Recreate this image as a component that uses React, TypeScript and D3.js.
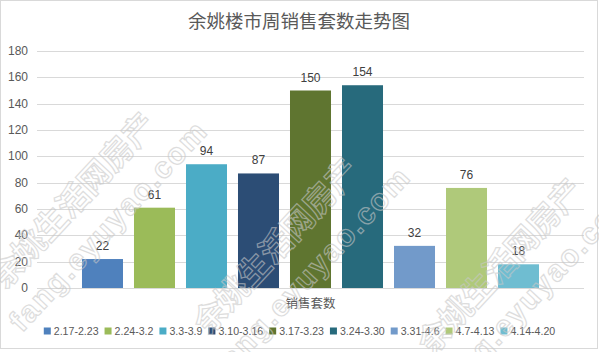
import React from "react";
import * as d3 from "d3";

const seriesNames = ["2.17-2.23", "2.24-3.2", "3.3-3.9", "3.10-3.16", "3.17-3.23", "3.24-3.30", "3.31-4.6", "4.7-4.13", "4.14-4.20"];
const seriesValues = [22, 61, 94, 87, 150, 154, 32, 76, 18];
const seriesColors = ["#4F81BD", "#9BBB59", "#4BACC6", "#2C4D75", "#5F7530", "#276A7C", "#729ACA", "#AFC97A", "#6FBDD1"];
const yTicks = [0, 20, 40, 60, 80, 100, 120, 140, 160, 180];
const category = "销售套数";
const title = "余姚楼市周销售套数走势图";
const watermarkCn = "余姚生活网房产";
const watermarkEn = "fang.eyuyao.com";

const W = 599;
const H = 352;
const NUM_FONT = "'Liberation Sans Narrow', 'Liberation Sans', Arial, sans-serif";
const CJK_FONT = "'Noto Sans CJK SC', sans-serif";

function measure(text: string, font: string): number {
  if (typeof document === "undefined") return text.length * 6;
  const c = document.createElement("canvas");
  const ctx = c.getContext("2d");
  if (!ctx) return text.length * 6;
  ctx.font = font;
  return ctx.measureText(text).width;
}

export default function App() {
  const plotLeft = 37;
  const plotRight = 584;
  const y = d3.scaleLinear().domain([0, 180]).range([288, 51]);
  const x = d3
    .scaleBand<string>()
    .domain(seriesNames)
    .range([plotLeft, plotRight])
    .paddingInner(0.2115)
    .paddingOuter(0.865);

  // legend layout
  const legendFontSize = 10.6;
  const legendFont = `${legendFontSize}px ${NUM_FONT}`;
  const marker = 7;
  const gapText = 3;
  const gapItem = 6;
  const widths = seriesNames.map((s) => measure(s, legendFont));
  const total = widths.reduce((a, b) => a + b, 0) + seriesNames.length * (marker + gapText) + (seriesNames.length - 1) * gapItem;
  let cur = (W - total) / 2;
  const legendItems = seriesNames.map((s, i) => {
    const item = { name: s, x: cur, color: seriesColors[i] };
    cur += marker + gapText + widths[i] + gapItem;
    return item;
  });
  const legendY = 331;

  const wmGroups = [
    [5, 290],
    [208, 336],
    [432, 356],
  ];

  return (
    <svg width={W} height={H} style={{ display: "block", position: "absolute", left: 0, top: 0, background: "#fff" }}>
      <rect x={0.5} y={0.5} width={W - 2} height={H - 4} fill="#fff" stroke="#d9d9d9" />
      <text x={299} y={28} textAnchor="middle" fontFamily={CJK_FONT} fontSize={18.5} fill="#595959">
        {title}
      </text>
      {yTicks.map((t) => (
        <g key={t}>
          <line x1={plotLeft} x2={plotRight} y1={Math.round(y(t)) + 0.5} y2={Math.round(y(t)) + 0.5} stroke="#d9d9d9" />
          <text x={28} y={y(t) + 4} textAnchor="end" fontFamily={NUM_FONT} fontSize={12} fill="#595959">
            {t}
          </text>
        </g>
      ))}
      {seriesNames.map((s, i) => (
        <g key={s}>
          <rect x={x(s)} y={y(seriesValues[i])} width={x.bandwidth()} height={y(0) - y(seriesValues[i])} fill={seriesColors[i]} />
          <text
            x={(x(s) as number) + x.bandwidth() / 2}
            y={y(seriesValues[i]) - 9}
            textAnchor="middle"
            fontFamily={NUM_FONT}
            fontSize={12}
            fill="#404040"
          >
            {seriesValues[i]}
          </text>
        </g>
      ))}
      <text x={(plotLeft + plotRight) / 2} y={308} textAnchor="middle" fontFamily={CJK_FONT} fontSize={12.5} fill="#595959">
        {category}
      </text>
      {legendItems.map((it) => (
        <g key={it.name}>
          <rect x={it.x} y={legendY - marker / 2} width={marker} height={marker} fill={it.color} />
          <text x={it.x + marker + gapText} y={legendY + 4} fontFamily={NUM_FONT} fontSize={legendFontSize} fill="#595959">
            {it.name}
          </text>
        </g>
      ))}
      <g opacity={0.6} pointerEvents="none">
        {wmGroups.map(([gx, gy], i) => (
          <g key={i} transform={`translate(${gx},${gy}) rotate(-47)`}>
            <text x={0} y={0} fontFamily={CJK_FONT} fontWeight="bold" fontSize={32} fill="none" stroke="#c8c8c8" strokeWidth={1.2}>
              {watermarkCn}
            </text>
            <text x={-20} y={42} fontFamily="'Liberation Sans', sans-serif" fontWeight="bold" fontSize={30} fill="none" stroke="#c8c8c8" strokeWidth={1.2} letterSpacing={2}>
              {watermarkEn}
            </text>
          </g>
        ))}
      </g>
    </svg>
  );
}
